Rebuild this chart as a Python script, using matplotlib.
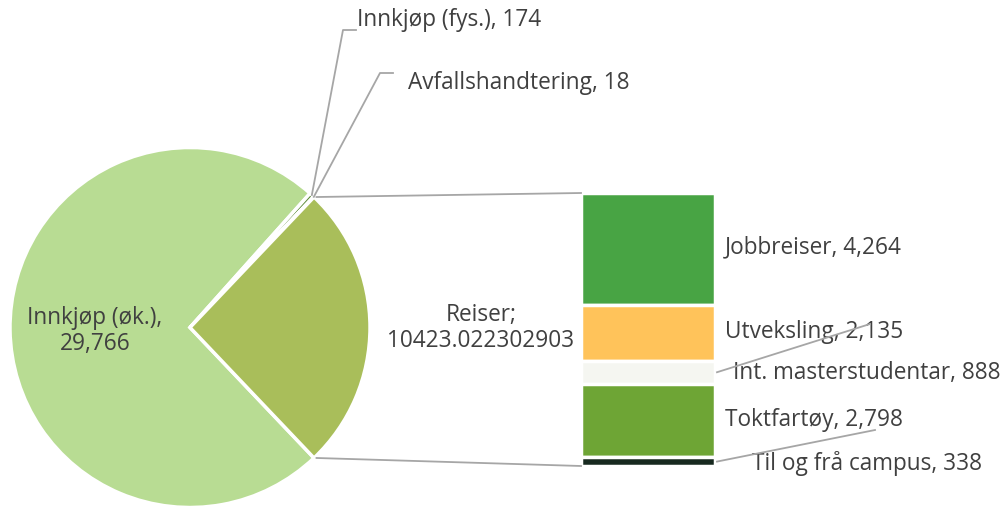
import numpy as np
import matplotlib.pyplot as plt

plt.rcParams['font.family'] = ['Open Sans', 'DejaVu Sans']

# hovudpai
pie_labels = ['Innkjøp (øk.)', 'Innkjøp (fys.)', 'Avfallshandtering', 'Reiser']
pie_values = [29766, 174, 18, 10423.022302903]
pie_colors = ['#B8DC93', '#5E8C3A', '#2E4A2A', '#A9BE5A']

# stolpe for reiser
bar_labels = ['Jobbreiser', 'Utveksling', 'Int. masterstudentar', 'Toktfartøy', 'Til og frå campus']
bar_values = [4264, 2135, 888, 2798, 338]
bar_colors = ['#48A444', '#FFC35A', '#F5F6F1', '#6EA535', '#17291F']

W, H = 1006, 508
txt = '#404040'
line_c = '#A6A6A6'
fs = 16.3

fig = plt.figure(figsize=(W / 100, H / 100), dpi=100)
ax = fig.add_axes([0, 0, 1, 1])

cx, cy, r = 190, H - 327.5, 180
total = sum(pie_values)
start = -360 * pie_values[-1] / total / 2
wedges, _ = ax.pie(pie_values, colors=pie_colors, center=(cx, cy), radius=r,
                   startangle=start, counterclock=False, explode=[0, 0, 0, 0.014],
                   wedgeprops=dict(edgecolor='white', linewidth=2.5), frame=True)

# etikettar i paien
ax.text(95, H - 331, f'{pie_labels[0]},\n{pie_values[0]:,}', ha='center', va='center',
        fontsize=fs, color=txt, linespacing=1.15)
ax.text(481, H - 328, f'{pie_labels[3]};\n{pie_values[3]}', ha='center', va='center',
        fontsize=fs, color=txt, linespacing=1.15)

# små bitar med leiarlinjer
small = [(1, (343, 30), (356, 30), (357, 20)), (2, (380, 73), (393, 73), (408, 83))]
for i, p1, p2, tp in small:
    w = wedges[i]
    a = np.deg2rad((w.theta1 + w.theta2) / 2)
    x0, y0 = cx + r * np.cos(a), cy + r * np.sin(a)
    ax.plot([x0, p1[0], p2[0]], [y0, H - p1[1], H - p2[1]], color=line_c, lw=1.3)
    ax.text(tp[0], H - tp[1], f'{pie_labels[i]}, {pie_values[i]:,}', ha='left', va='center',
            fontsize=fs, color=txt)

# stabla stolpe
bx, bw = 581, 134
top, bottom = H - 193, H - 466
scale = (top - bottom) / sum(bar_values)
heights = np.array(bar_values) * scale
bots = top - np.cumsum(heights)
ax.bar([bx + bw / 2] * len(bar_values), heights, width=bw, bottom=bots,
       color=bar_colors, edgecolor='white', linewidth=2.5)

# samband mellom pai og stolpe
rw = wedges[3]
rcx = cx + 0.014 * r
for ang, by in [(rw.theta1, bottom), (rw.theta2, top)]:
    a = np.deg2rad(ang)
    ax.plot([rcx + r * np.cos(a), bx], [cy + r * np.sin(a), by], color=line_c, lw=1.3)

# etikettar for stolpen
lab_pos = [(725, 247), (725, 332), (733, 373), (725, 420), (752, 463)]
leaders = {2: (870, 324), 4: (875, 430)}
for i, (lx, ly) in enumerate(lab_pos):
    ymid = bots[i] + heights[i] / 2
    if i in leaders:
        ex, ey = leaders[i]
        ax.plot([bx + bw + 2, ex], [ymid, H - ey], color=line_c, lw=1.3, zorder=5)
    ax.text(lx, H - ly, f'{bar_labels[i]}, {bar_values[i]:,}', ha='left', va='center',
            fontsize=fs, color=txt, zorder=4)

ax.set_xlim(0, W)
ax.set_ylim(0, H)
ax.set_aspect('equal')
ax.axis('off')

fig.savefig('out.png', dpi=100)
